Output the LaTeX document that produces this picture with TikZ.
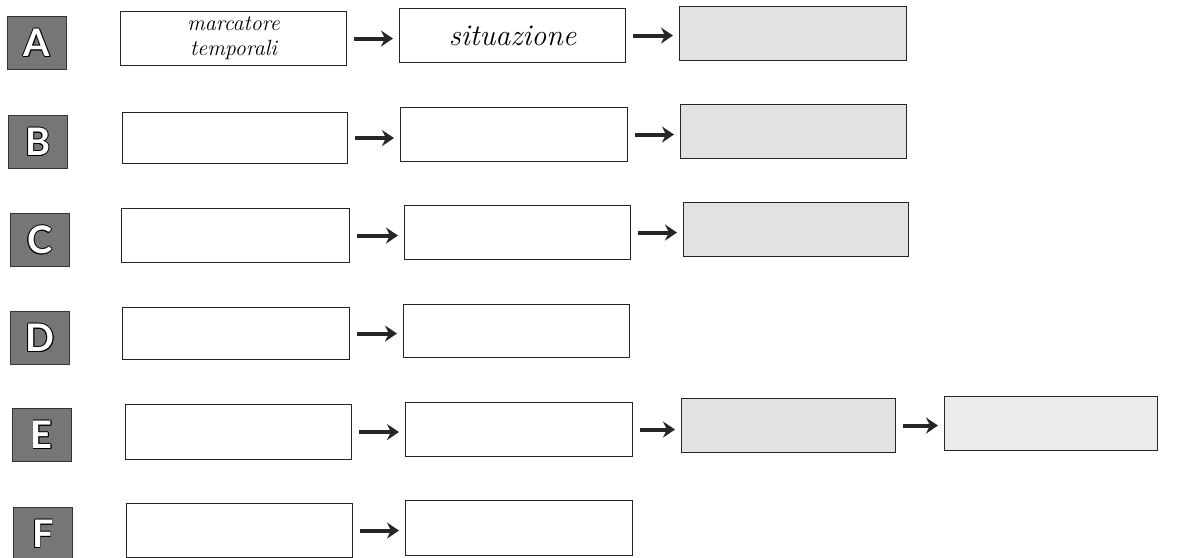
\documentclass[tikz,border=0pt]{standalone}
\usepackage{fontspec}
\newfontfamily\labfont{Lato}
\usetikzlibrary{arrows.meta}
\definecolor{labgray}{RGB}{118,118,118}
\definecolor{shade}{RGB}{226,226,226}
\newcommand\olet[1]{%
  \leavevmode
  \rlap{\kern-0.8pt\color{black}#1}%
  \rlap{\kern0.8pt\color{black}#1}%
  \rlap{\raisebox{0.8pt}{\color{black}#1}}%
  \rlap{\raisebox{-0.8pt}{\color{black}#1}}%
  \rlap{\kern-0.6pt\raisebox{0.6pt}{\color{black}#1}}%
  \rlap{\kern0.6pt\raisebox{-0.6pt}{\color{black}#1}}%
  \rlap{\kern0.6pt\raisebox{0.6pt}{\color{black}#1}}%
  \rlap{\kern-0.6pt\raisebox{-0.6pt}{\color{black}#1}}%
  {\color{white}#1}}
\tikzset{
  lab/.style={draw=black!80, line width=0.8pt, fill=labgray, inner sep=0pt,
    minimum width=59pt, minimum height=53pt, anchor=north west,
    font=\labfont\bfseries\fontsize{38}{38}\selectfont},
  wbox/.style={draw=black!85, line width=1.1pt, fill=white, inner sep=0pt,
    minimum width=226pt, minimum height=54pt, anchor=north west,
    align=center},
  gbox/.style={wbox, fill=shade},
  arr/.style={line width=4pt, draw=black!85, -{Stealth[length=12pt,width=16pt]},
    shorten <=7pt, shorten >=6pt}
}
\begin{document}
\begin{tikzpicture}[x=1pt,y=-1pt]
\useasboundingbox (0,0) rectangle (1194,557);
% labels
\node[lab] (lA) at (7,16)   {\olet{A}};
\node[lab] (lB) at (8,115)  {\olet{B}};
\node[lab] (lC) at (10,213) {\olet{C}};
\node[lab] (lD) at (10,311) {\olet{D}};
\node[lab] (lE) at (12,408) {\olet{E}};
\node[lab] (lF) at (13,507) {\olet{F}};
% row A
\node[wbox, font=\itshape\fontsize{22}{25}\selectfont] (a1) at (120,11) {marcatore\\temporali};
\node[wbox, font=\itshape\fontsize{30}{30}\selectfont] (a2) at (399,8) {situazione};
\node[gbox, minimum width=227pt] (a3) at (679,6) {};
% row B
\node[wbox, minimum width=225pt, minimum height=51pt] (b1) at (122,112) {};
\node[wbox, minimum width=227pt] (b2) at (400,107) {};
\node[gbox] (b3) at (680,104) {};
% row C
\node[wbox, minimum width=228pt] (c1) at (121,208) {};
\node[wbox] (c2) at (404,205) {};
\node[gbox, minimum width=225pt] (c3) at (683,202) {};
% row D
\node[wbox, minimum width=227pt, minimum height=52pt] (d1) at (122,307) {};
\node[wbox, minimum height=53pt] (d2) at (403,304) {};
% row E
\node[wbox, minimum height=55pt] (e1) at (125,404) {};
\node[wbox, minimum width=227pt] (e2) at (405,402) {};
\node[gbox, minimum width=214pt] (e3) at (681,398) {};
\node[gbox, minimum width=213pt, fill=shade!70] (e4) at (944,396) {};
% row F
\node[wbox, minimum height=54pt] (f1) at (126,503) {};
\node[wbox, minimum width=227pt, minimum height=55pt] (f2) at (405,500) {};
% arrows
\draw[arr] (a1.east) -- (a1.east -| a2.west);
\draw[arr] (a2.east) -- (a2.east -| a3.west);
\draw[arr] (b1.east) -- (b1.east -| b2.west);
\draw[arr] (b2.east) -- (b2.east -| b3.west);
\draw[arr] (c1.east) -- (c1.east -| c2.west);
\draw[arr] (c2.east) -- (c2.east -| c3.west);
\draw[arr] (d1.east) -- (d1.east -| d2.west);
\draw[arr] (e1.east) -- (e1.east -| e2.west);
\draw[arr] (e2.east) -- (e2.east -| e3.west);
\draw[arr] (e3.east) -- (e3.east -| e4.west);
\draw[arr] (f1.east) -- (f1.east -| f2.west);
\end{tikzpicture}
\end{document}
